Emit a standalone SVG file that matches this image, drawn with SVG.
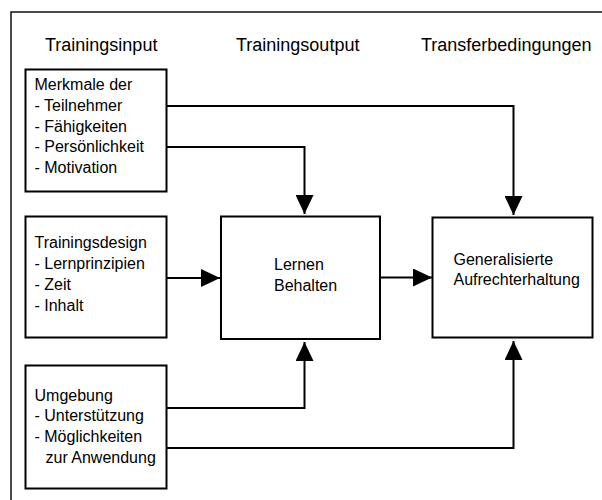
<svg xmlns="http://www.w3.org/2000/svg" width="602" height="500" viewBox="0 0 602 500">
<style>
text{font-family:"Liberation Sans",Arial,sans-serif;fill:#000}
.h{font-size:18px}
.b{font-size:16px}
.box{fill:#fff;stroke:#000;stroke-width:2}
.con{fill:none;stroke:#000;stroke-width:2}
</style>
<defs>
<marker id="ah" markerUnits="userSpaceOnUse" markerWidth="19" markerHeight="18" refX="19" refY="9" orient="auto" viewBox="0 0 19 18">
<path d="M0,0 L19,9 L0,18 Z" fill="#000"/>
</marker>
</defs>
<rect x="0" y="0" width="602" height="500" fill="#fff"/>
<rect x="11" y="12" width="600" height="500" fill="none" stroke="#000" stroke-width="1.4"/>
<g id="headers">
<text class="h" x="45" y="50.5">Trainingsinput</text>
<text class="h" x="236" y="50.5">Trainingsoutput</text>
<text class="h" x="421" y="50.5">Transferbedingungen</text>
</g>
<g id="connectors">
<polyline class="con" points="166.5,106 513.5,106 513.5,215" marker-end="url(#ah)"/>
<polyline class="con" points="166.5,147 304.5,147 304.5,214" marker-end="url(#ah)"/>
<polyline class="con" points="166.5,278 220,278" marker-end="url(#ah)"/>
<polyline class="con" points="380,277.5 432,277.5" marker-end="url(#ah)"/>
<polyline class="con" points="166.5,408 304.5,408 304.5,342" marker-end="url(#ah)"/>
<polyline class="con" points="166.5,448 513.5,448 513.5,341" marker-end="url(#ah)"/>
</g>
<g id="merkmale">
<rect class="box" x="25.5" y="69.5" width="141" height="122"/>
<text class="b" x="34.5" y="90">Merkmale der</text>
<text class="b" x="34.5" y="111">- Teilnehmer</text>
<text class="b" x="34.5" y="131.7">- Fähigkeiten</text>
<text class="b" x="34.5" y="152.3">- Persönlichkeit</text>
<text class="b" x="34.5" y="173.2">- Motivation</text>
</g>
<g id="design">
<rect class="box" x="25.5" y="216.5" width="141" height="121"/>
<text class="b" x="34.5" y="248">Trainingsdesign</text>
<text class="b" x="34.5" y="269">- Lernprinzipien</text>
<text class="b" x="34.5" y="290">- Zeit</text>
<text class="b" x="34.5" y="310.7">- Inhalt</text>
</g>
<g id="umgebung">
<rect class="box" x="25.5" y="365.5" width="141" height="123"/>
<text class="b" x="34.5" y="400.7">Umgebung</text>
<text class="b" x="34.5" y="421">- Unterstützung</text>
<text class="b" x="34.5" y="441.7">- Möglichkeiten</text>
<text class="b" x="45.5" y="463">zur Anwendung</text>
</g>
<g id="lernen">
<rect class="box" x="221" y="216.5" width="159" height="122.5"/>
<text class="b" x="274" y="270">Lernen</text>
<text class="b" x="274" y="291">Behalten</text>
</g>
<g id="transfer">
<rect class="box" x="432.5" y="217.5" width="160" height="120"/>
<text class="b" x="453.5" y="264.5">Generalisierte</text>
<text class="b" x="453.5" y="285">Aufrechterhaltung</text>
</g>
</svg>
